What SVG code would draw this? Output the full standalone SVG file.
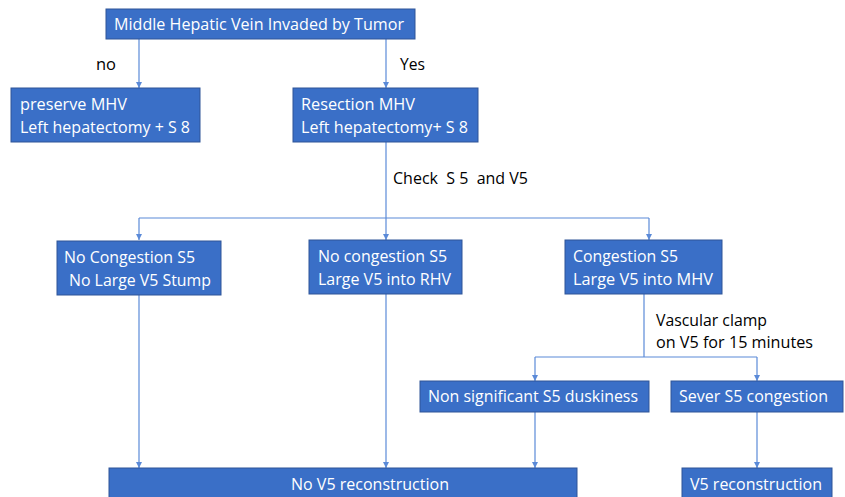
<svg xmlns="http://www.w3.org/2000/svg" width="845" height="497" viewBox="0 0 845 497">
<style>
.box{fill:#3a6fc7;stroke:#2f5597;stroke-width:1}
.t{font-family:"Open Sans","Liberation Sans",sans-serif;font-size:16.5px;fill:#ffffff}
.l{font-family:"Open Sans","Liberation Sans",sans-serif;font-size:16.5px;fill:#000000}
.c{fill:none;stroke:#5b8ad8;stroke-width:1.2}
</style>
<defs>
<marker id="ah" viewBox="0 0 8 8" refX="8" refY="4" markerWidth="6" markerHeight="6" orient="auto" markerUnits="userSpaceOnUse">
<path d="M0,0 L8,4 L0,8 z" fill="#5b8ad8"/>
</marker>
</defs>
<rect width="845" height="497" fill="#ffffff"/>
<g id="connectors">
<path class="c" d="M139,39 V88" marker-end="url(#ah)"/>
<path class="c" d="M386,39 V88" marker-end="url(#ah)"/>
<path class="c" d="M386,142 V240" marker-end="url(#ah)"/>
<path class="c" d="M139,218 H649"/>
<path class="c" d="M139,218 V240" marker-end="url(#ah)"/>
<path class="c" d="M649,218 V240" marker-end="url(#ah)"/>
<path class="c" d="M644,294 V357"/>
<path class="c" d="M535,357 H757"/>
<path class="c" d="M535,357 V381" marker-end="url(#ah)"/>
<path class="c" d="M757,357 V381" marker-end="url(#ah)"/>
<path class="c" d="M139,295 V468" marker-end="url(#ah)"/>
<path class="c" d="M386,294 V468" marker-end="url(#ah)"/>
<path class="c" d="M535,412 V468" marker-end="url(#ah)"/>
<path class="c" d="M757,412 V468" marker-end="url(#ah)"/>
<text class="l" x="96" y="70" textLength="20" lengthAdjust="spacingAndGlyphs">no</text>
<text class="l" x="400" y="70" textLength="25" lengthAdjust="spacingAndGlyphs">Yes</text>
<text class="l" x="393" y="184" textLength="135" lengthAdjust="spacingAndGlyphs" xml:space="preserve">Check  S 5  and V5</text>
<text class="l" x="656" y="326" textLength="111" lengthAdjust="spacingAndGlyphs">Vascular clamp</text>
<text class="l" x="656" y="348" textLength="157" lengthAdjust="spacingAndGlyphs">on V5 for 15 minutes</text>
</g>
<g id="n_root">
<rect class="box" x="106" y="9" width="309" height="30"/>
<text class="t" x="114" y="30" textLength="290" lengthAdjust="spacingAndGlyphs">Middle Hepatic Vein Invaded by Tumor</text>
</g>
<g id="n_preserve">
<rect class="box" x="11" y="88" width="189" height="54"/>
<text class="t" x="20" y="110" textLength="107" lengthAdjust="spacingAndGlyphs">preserve MHV</text>
<text class="t" x="20" y="133" textLength="170" lengthAdjust="spacingAndGlyphs">Left hepatectomy + S 8</text>
</g>
<g id="n_resection">
<rect class="box" x="293" y="88" width="185" height="54"/>
<text class="t" x="301" y="110" textLength="114" lengthAdjust="spacingAndGlyphs">Resection MHV</text>
<text class="t" x="301" y="133" textLength="167" lengthAdjust="spacingAndGlyphs">Left hepatectomy+ S 8</text>
</g>
<g id="n_nocong_stump">
<rect class="box" x="57" y="241" width="164" height="54"/>
<text class="t" x="64" y="263" textLength="131" lengthAdjust="spacingAndGlyphs">No Congestion S5</text>
<text class="t" x="69" y="286" textLength="142" lengthAdjust="spacingAndGlyphs">No Large V5 Stump</text>
</g>
<g id="n_nocong_rhv">
<rect class="box" x="309" y="240" width="153" height="54"/>
<text class="t" x="318" y="262" textLength="129" lengthAdjust="spacingAndGlyphs">No congestion S5</text>
<text class="t" x="318" y="285" textLength="133" lengthAdjust="spacingAndGlyphs">Large V5 into RHV</text>
</g>
<g id="n_cong_mhv">
<rect class="box" x="565" y="240" width="157" height="54"/>
<text class="t" x="573" y="262" textLength="105" lengthAdjust="spacingAndGlyphs">Congestion S5</text>
<text class="t" x="573" y="285" textLength="140" lengthAdjust="spacingAndGlyphs">Large V5 into MHV</text>
</g>
<g id="n_dusk">
<rect class="box" x="420" y="381" width="229" height="31"/>
<text class="t" x="428" y="402" textLength="210" lengthAdjust="spacingAndGlyphs">Non significant S5 duskiness</text>
</g>
<g id="n_sever">
<rect class="box" x="671" y="381" width="172" height="31"/>
<text class="t" x="679" y="402" textLength="149" lengthAdjust="spacingAndGlyphs">Sever S5 congestion</text>
</g>
<g id="n_norecon">
<rect class="box" x="109" y="468" width="468" height="40"/>
<text class="t" x="291" y="490" textLength="158" lengthAdjust="spacingAndGlyphs">No V5 reconstruction</text>
</g>
<g id="n_recon">
<rect class="box" x="682" y="468" width="150" height="40"/>
<text class="t" x="690" y="490" textLength="132" lengthAdjust="spacingAndGlyphs">V5 reconstruction</text>
</g>
</svg>
